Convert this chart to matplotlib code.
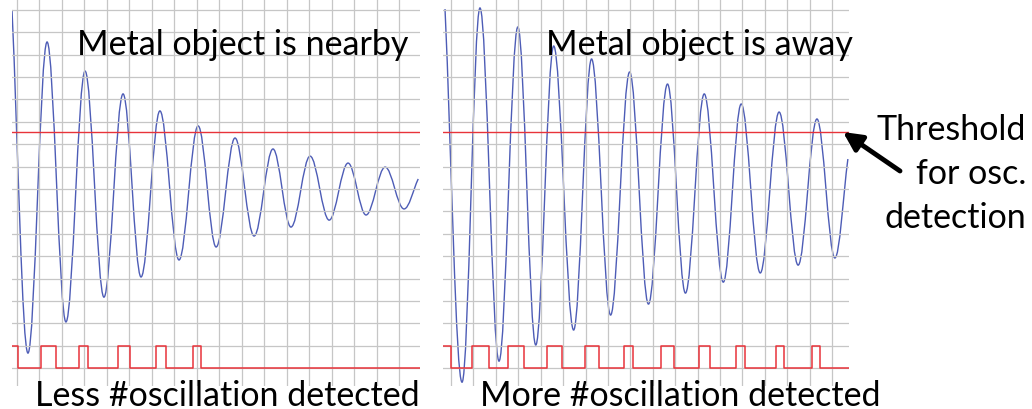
import matplotlib
matplotlib.use("Agg")
import matplotlib.pyplot as plt
from matplotlib.path import Path
from matplotlib.patches import PathPatch, FancyArrowPatch

plt.rcParams['font.family'] = ['Lato', 'DejaVu Sans']

#### Data (time and amplitude in grid divisions)
# metal nearby: strongly damped ringing
near_t = [-0.22, 0.49, 1.34, 2.18, 3.03, 3.87, 4.72, 5.52, 6.36, 7.21, 8.06, 8.86,
          9.70, 10.55, 11.39, 12.19, 13.04, 13.89, 14.73, 15.53, 16.38, 17.22, 17.85]
near_v = [8.0, -7.33, 6.57, -5.94, 5.27, -4.83, 4.25, -3.93, 3.49, -3.17, 2.82, -2.59,
          2.28, -2.10, 1.79, -1.70, 1.47, -1.39, 1.16, -1.16, 0.98, -0.89, 0.45]
near_edges = [-0.22, 0.04, 1.07, 1.74, 2.76, 3.16, 4.49, 5.03, 6.19, 6.63, 7.83, 8.19, 17.93]
near_state = [1, 0, 1, 0, 1, 0, 1, 0, 1, 0, 1, 0, 0]

# metal away: weakly damped ringing
away_t = [-0.27, 0.49, 1.29, 2.14, 2.98, 3.78, 4.58, 5.47, 6.27, 7.12, 7.97, 8.81,
          9.66, 10.46, 11.30, 12.15, 12.95, 13.80, 14.64, 15.49, 16.33, 17.13, 17.71]
away_v = [8.04, -8.63, 8.09, -7.69, 7.24, -6.97, 6.39, -6.30, 5.81, -5.63, 5.23, -5.14,
          4.69, -4.65, 4.25, -4.16, 3.80, -3.75, 3.44, -3.40, 3.13, -3.08, 1.34]
away_edges = [-0.36, 0.00, 0.93, 1.69, 2.54, 3.25, 4.27, 4.94, 5.96, 6.59, 7.70, 8.14,
              9.39, 9.97, 11.08, 11.57, 12.73, 13.13, 14.51, 14.87, 16.11, 16.47, 17.76]
away_state = [1, 0, 1, 0, 1, 0, 1, 0, 1, 0, 1, 0, 1, 0, 1, 0, 1, 0, 1, 0, 1, 0, 0]

THRESHOLD = 2.55
PULSE_HI = -7.0
PULSE_LO = -8.0

note_lines = ['Threshold', 'for osc.', 'detection']

BLUE = '#4d5cb6'
RED = '#e8333a'
GRID = '#c6c6c6'


def smooth_path(ts, vs, a=0.36):
    # cubic bezier per half-cycle, flat tangent at each peak/trough
    verts = [(ts[0], vs[0])]
    codes = [Path.MOVETO]
    n = len(ts)
    for i in range(n - 1):
        x0, y0, x1, y1 = ts[i], vs[i], ts[i + 1], vs[i + 1]
        dx, dy = x1 - x0, y1 - y0
        c1 = (x0 + a * dx, y0 + (a * dy if i == 0 else 0))
        c2 = (x1 - a * dx, y1 - (a * dy if i + 1 == n - 1 else 0))
        verts += [c1, c2, (x1, y1)]
        codes += [Path.CURVE4] * 3
    return Path(verts, codes)


def scope(ax, ts, vs, edges, state, xlim):
    ax.set_xlim(*xlim)
    ax.set_ylim(-8.80, 8.49)
    ax.set_xticks(range(0, 18))
    ax.set_yticks(range(-8, 9))
    ax.grid(True, color=GRID, linewidth=0.9)
    ax.tick_params(length=0, labelbottom=False, labelleft=False)
    for s in ax.spines.values():
        s.set_visible(False)
    ax.set_facecolor('none')
    ax.axhline(THRESHOLD, color=RED, linewidth=1.0)
    levels = [PULSE_LO + s * (PULSE_HI - PULSE_LO) for s in state]
    ax.step(edges, levels, where='post', color=RED, linewidth=1.1)
    ax.add_patch(PathPatch(smooth_path(ts, vs), fill=False, edgecolor=BLUE, linewidth=1.0))


W, H = 1032, 410
fig = plt.figure(figsize=(W / 100, H / 100), dpi=100)

ax1 = fig.add_axes([12 / W, 23 / H, 408 / W, 387 / H])
scope(ax1, near_t, near_v, near_edges, near_state, (-0.22, 17.93))

ax2 = fig.add_axes([443 / W, 23 / H, 406 / W, 387 / H])
scope(ax2, away_t, away_v, away_edges, away_state, (-0.36, 17.76))

fs = 24.5
fig.text(408 / W, 1 - 55 / H, 'Metal object is nearby', ha='right', va='baseline', fontsize=fs)
fig.text(853 / W, 1 - 55 / H, 'Metal object is away', ha='right', va='baseline', fontsize=fs)
fig.text(35 / W, 1 - 406 / H, 'Less #oscillation detected', ha='left', va='baseline', fontsize=fs)
fig.text(480 / W, 1 - 406 / H, 'More #oscillation detected', ha='left', va='baseline', fontsize=fs)
for line, base in zip(note_lines, [140, 184, 228]):
    fig.text(1026 / W, 1 - base / H, line, ha='right', va='baseline', fontsize=fs)

fig.patches.append(FancyArrowPatch(
    (900 / W, 1 - 172 / H), (843 / W, 1 - 133 / H), transform=fig.transFigure,
    arrowstyle='-|>', mutation_scale=28, linewidth=3.5, color='black',
    shrinkA=0, shrinkB=0))

fig.savefig('out.png', dpi=100)
